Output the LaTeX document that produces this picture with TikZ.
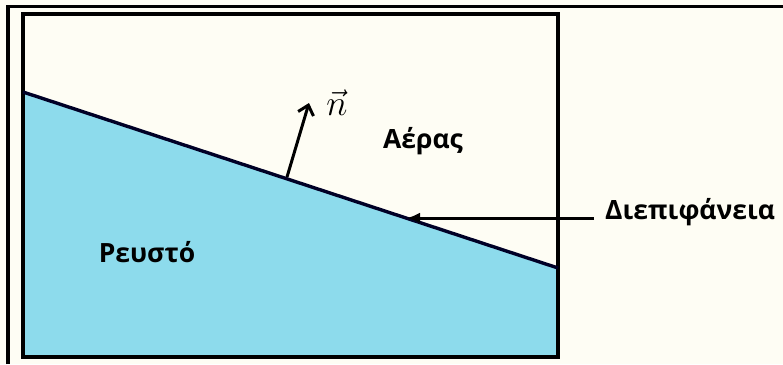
\documentclass[tikz,border=0pt]{standalone}
\usepackage{fontspec}
\setmainfont{Open Sans}
\usetikzlibrary{arrows.meta}
\definecolor{bgcream}{HTML}{FEFDF4}
\definecolor{fluid}{HTML}{8DDBEC}
\tikzset{
  frame/.style={line width=3.4pt, draw=black},
  lbl/.style={font=\bfseries\fontsize{26.5}{30}\selectfont, inner sep=0pt, text=black},
}
\begin{document}
\begin{tikzpicture}[x=1pt,y=-1pt]
\fill[bgcream] (0,0) rectangle (783,364);
\useasboundingbox (0,0) rectangle (783,364);
% outer frame (top and left edges visible)
\draw[frame] (8,364) -- (8,6.5) -- (783,6.5);
% fluid region
\coordinate (il) at (23,92);
\coordinate (ir) at (558,268);
\fill[fluid] (il) -- (ir) -- (558,357) -- (23,357) -- cycle;
% inner box
\draw[frame] (23,14) rectangle (558,357);
% interface
\draw[line width=3.4pt, draw=black!85!blue] (il) -- (ir);
% normal vector
\coordinate (nb) at (287,177);
\coordinate (nt) at (309,103);
\draw[line width=3pt, -{Straight Barb[length=9pt,width=16pt]}] (nb) -- (nt);
\node[inner sep=0pt, scale=1.45, font=\fontsize{24.88}{28}\selectfont] (nlab) at (337,103) {$\vec{n}$};
% labels
\node[lbl] (air) at (423,141) {Αέρας};
\node[lbl] (fl) at (147,252) {Ρευστό};
\node[lbl, anchor=west] (intf) at (605,212) {Διεπιφάνεια};
\coordinate (ip) at (407,218);
\draw[line width=3pt, -{Latex[length=13pt,width=11pt]}] (594,218) -- (ip);
\end{tikzpicture}
\end{document}
